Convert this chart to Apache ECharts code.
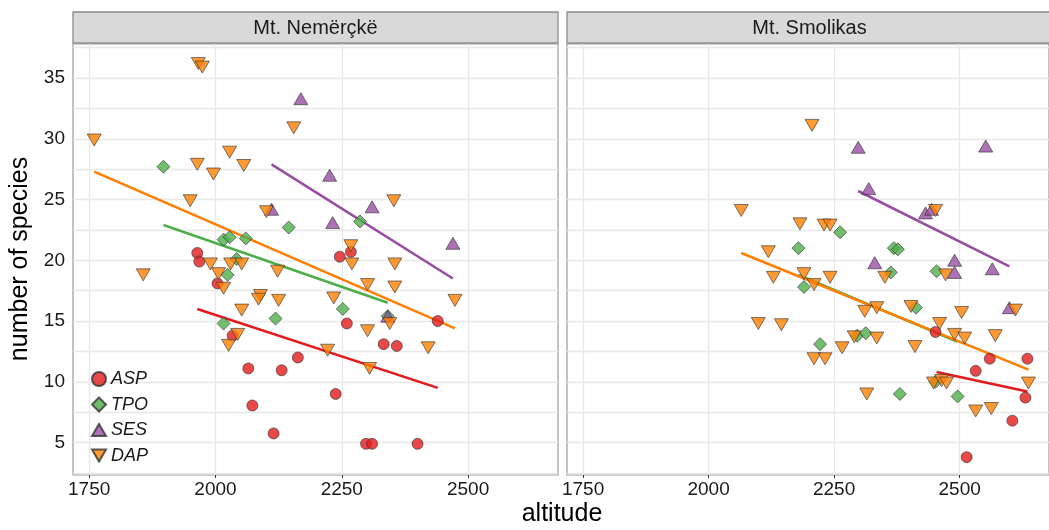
<!DOCTYPE html>
<html><head><meta charset="utf-8">
<script src="https://cdn.jsdelivr.net/npm/echarts@6/dist/echarts.min.js"></script>
<style>html,body{margin:0;padding:0;background:#fff}#c{width:1049px;height:530px}</style>
</head><body><div id="c"></div>
<script>
// ---- data ----
const panels = ['Mt. Nemërçkë', 'Mt. Smolikas'];
const groups = ['ASP', 'TPO', 'SES', 'DAP'];
const xTicks = [1750, 2000, 2250, 2500];
const yTicks = [5, 10, 15, 20, 25, 30, 35];
const yGrid = [2.5, 5, 7.5, 10, 12.5, 15, 17.5, 20, 22.5, 25, 27.5, 30, 32.5, 35, 37.5];

// Mt. Nemërçkë: [altitude, species]
const ASP_N = [[1964,20.6],[1968,19.9],[2004,18.1],[2034,13.8],[2065,11.1],[2131,10.95],[2163,12.0],[2073,8.05],[2115,5.75],[2246,20.3],[2268,20.7],[2260,14.8],[2333,13.1],[2359,12.95],[2440,15.0],[2238,9.0],[2298,4.9],[2310,4.9],[2400,4.9]];
const TPO_N = [[1897,27.7],[2016,21.7],[2028,21.9],[2060,21.8],[2145,22.7],[2042,20.1],[2024,18.8],[2016,14.8],[2119,15.2],[2252,16.0],[2286,23.2],[2341,15.4]];
const SES_N = [[2169,33.3],[2111,24.2],[2226,27.0],[2310,24.4],[2232,23.1],[2470,21.4],[2341,15.4]];
const DAP_N = [[1966,36.2],[1974,35.9],[1760,29.9],[2155,30.9],[2028,28.9],[1964,27.9],[2056,27.8],[1996,27.1],[1950,24.9],[2101,24.0],[2353,24.9],[2268,21.2],[1857,18.8],[1990,19.7],[2030,19.7],[2052,19.7],[2123,19.1],[2006,18.9],[2016,17.7],[2089,17.1],[2085,16.8],[2125,16.7],[2052,15.9],[2044,13.9],[2026,13.0],[2270,19.7],[2355,19.7],[2301,18.0],[2355,17.8],[2234,16.9],[2474,16.7],[2345,14.8],[2301,14.2],[2421,12.8],[2222,12.6],[2305,11.1]];
// fitted lines (endpoints)
const ASP_N_fit = [[1964,16.0],[2440,9.5]];
const TPO_N_fit = [[1897,22.9],[2341,16.5]];
const SES_N_fit = [[2111,27.9],[2470,18.5]];
const DAP_N_fit = [[1760,27.3],[2474,14.4]];

// Mt. Smolikas
const ASP_S = [[2452,14.1],[2560,11.9],[2635,11.9],[2532,10.9],[2631,8.7],[2605,6.8],[2514,3.8]];
const TPO_S = [[2179,21.0],[2262,22.3],[2369,21.0],[2377,20.9],[2454,19.1],[2363,19.0],[2190,17.8],[2413,16.1],[2222,13.1],[2296,13.8],[2313,14.0],[2452,10.0],[2381,9.0],[2496,8.8]];
const SES_S = [[2298,29.3],[2552,29.4],[2319,25.9],[2432,23.9],[2444,24.2],[2331,19.8],[2490,20.0],[2490,19.0],[2565,19.3],[2599,16.1]];
const DAP_S = [[2065,24.1],[2182,23.0],[2119,20.7],[2206,31.1],[2230,22.9],[2242,22.9],[2452,24.1],[2472,18.8],[2351,18.6],[2190,18.9],[2210,18.0],[2242,18.6],[2311,15.8],[2335,16.1],[2403,16.2],[2504,15.7],[2611,15.9],[2460,14.8],[2490,13.9],[2510,13.6],[2571,13.8],[2210,11.9],[2232,11.9],[2266,12.8],[2290,13.7],[2335,13.6],[2411,12.9],[2448,9.9],[2464,10.1],[2474,9.9],[2637,9.9],[2315,9.0],[2532,7.6],[2563,7.8],[2129,18.6],[2099,14.8],[2145,14.7]];
const ASP_S_fit = [[2454,10.8],[2635,9.2]];
const TPO_S_fit = [[2179,18.8],[2496,13.3]];
const SES_S_fit = [[2298,25.7],[2599,19.5]];
const DAP_S_fit = [[2065,20.6],[2637,11.0]];

// ---- styles ----
const colors = {ASP:'#E41A1C', TPO:'#4DAF4A', SES:'#984EA3', DAP:'#FF7F00'};
const symbols = {
  ASP: 'circle',
  TPO: 'diamond',
  SES: 'path://M0,1.732 L1,0 L2,1.732 Z',
  DAP: 'path://M0,0 L2,0 L1,1.732 Z'
};
const sizes = {ASP:[11,11], TPO:[13,13], SES:[14,12], DAP:[14,12]};

const pts = [{ASP:ASP_N, TPO:TPO_N, SES:SES_N, DAP:DAP_N},{ASP:ASP_S, TPO:TPO_S, SES:SES_S, DAP:DAP_S}];
const fits = [{ASP:ASP_N_fit, TPO:TPO_N_fit, SES:SES_N_fit, DAP:DAP_N_fit},{ASP:ASP_S_fit, TPO:TPO_S_fit, SES:SES_S_fit, DAP:DAP_S_fit}];

const gridLeft = [73, 567], gridTop = 44, gridW = 485, gridH = 431;
const font = 'Liberation Sans, Arial, sans-serif';

const grids = [], xAxes = [], yAxes = [], series = [], graphics = [];
panels.forEach((p, i) => {
  grids.push({left: gridLeft[i], top: gridTop, width: gridW, height: gridH, show: true, borderColor: '#9a9a9a', borderWidth: 1.2, backgroundColor: '#fff'});
  xAxes.push({type:'value', gridIndex:i, min:1718, max:2678,
    axisLine:{show:false},
    axisTick:{show:true, length:3, lineStyle:{color:'#333'}, customValues:xTicks},
    axisLabel:{customValues:xTicks, formatter: v => String(v), fontSize:19, color:'#1a1a1a', fontFamily:font, margin:5},
    splitLine:{show:true, lineStyle:{color:'#e8e8e8', width:1.3}}
  });
  yAxes.push({type:'value', gridIndex:i, min:2.33, max:37.8,
    axisLine:{show:false},
    axisTick:{show:false, customValues:yGrid},
    axisLabel:{show:i===0, customValues:yTicks, formatter: v => String(v), fontSize:19, color:'#1a1a1a', fontFamily:font, margin:8},
    splitLine:{show:true, lineStyle:{color:'#e8e8e8', width:1.3}}
  });
  groups.forEach(g => {
    series.push({type:'line', name: g + ' fit', xAxisIndex:i, yAxisIndex:i, data: fits[i][g],
      symbol:'none', silent:true, z:2, lineStyle:{color:colors[g], width:2.6}});
  });
  groups.forEach(g => {
    series.push({type:'scatter', name:g, xAxisIndex:i, yAxisIndex:i, data: pts[i][g],
      symbol: symbols[g], symbolSize: sizes[g], z:3,
      itemStyle:{color:colors[g], opacity:0.8, borderColor:'#333', borderWidth:0.8}});
  });
  graphics.push({type:'rect', shape:{x:gridLeft[i], y:12, width:gridW, height:31},
    style:{fill:'#d9d9d9', stroke:'#8c8c8c', lineWidth:1.3}});
  graphics.push({type:'text', x: gridLeft[i] + gridW/2, y: 28,
    style:{text:p, fontSize:20, fontFamily:font, fill:'#1a1a1a', textAlign:'center', textVerticalAlign:'middle'}});
});
graphics.push({type:'text', x:20, y:259, rotation:Math.PI/2,
  style:{text:'number of species', fontSize:25, fontFamily:font, fill:'#000', textAlign:'center', textVerticalAlign:'middle'}});
graphics.push({type:'text', x:562, y:514,
  style:{text:'altitude', fontSize:25, fontFamily:font, fill:'#000', textAlign:'center', textVerticalAlign:'middle'}});

const chart = echarts.init(document.getElementById('c'), null, {renderer:'canvas'});
chart.setOption({
  animation:false,
  backgroundColor:'#fff',
  grid: grids, xAxis: xAxes, yAxis: yAxes, series: series,
  legend:{data:groups, orient:'vertical', left:86, top:365, itemWidth:14, itemHeight:14, itemGap:7.5,
    textStyle:{fontSize:18, fontStyle:'italic', color:'#1a1a1a', fontFamily:font}, selectedMode:false},
  graphic: graphics
});
</script></body></html>
